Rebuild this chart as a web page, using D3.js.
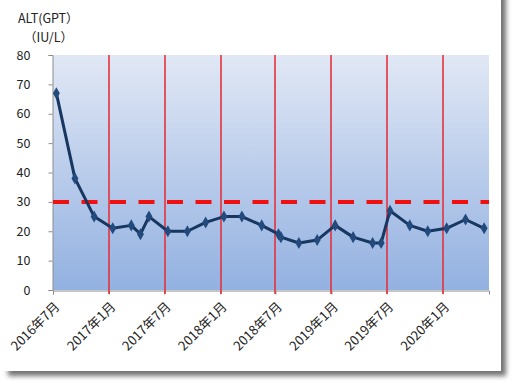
<!DOCTYPE html>
<html>
<head>
<meta charset="utf-8">
<script src="https://cdn.jsdelivr.net/npm/d3@7"></script>
<style>
  body { margin: 0; background: #fff; }
  svg text { font-family: "Noto Sans CJK JP", "Noto Sans", sans-serif; fill: #222; }
</style>
</head>
<body>
<script>
// measurement dates and ALT values
var dates = ["2016-07-12", "2016-09-11", "2016-11-13", "2017-01-13", "2017-03-15", "2017-04-14",
  "2017-05-12", "2017-07-13", "2017-09-15", "2017-11-14", "2018-01-13", "2018-03-13",
  "2018-05-17", "2018-07-11", "2018-07-19", "2018-09-16", "2018-11-15", "2019-01-13",
  "2019-03-13", "2019-05-16", "2019-06-13", "2019-07-12", "2019-09-15", "2019-11-13",
  "2020-01-14", "2020-03-16", "2020-05-16"];
var values = [67, 38, 25, 21, 22, 19, 25, 20, 20, 23, 25, 25, 22, 19, 18, 16, 17, 22, 18, 16, 16, 27, 22, 20, 21, 24, 21];

var tickDates = ["2016-07-01", "2017-01-01", "2017-07-01", "2018-01-01", "2018-07-01", "2019-01-01", "2019-07-01", "2020-01-01"];
var yTicks = [0, 10, 20, 30, 40, 50, 60, 70, 80];
var limit = 30; //reference value (dashed line)

var parse = d3.timeParse("%Y-%m-%d");
var data = dates.map(function(d, i) { return { date: parse(d), value: values[i] }; });

var width = 518, height = 388;
var plotLeft = 53, plotRight = 489, plotTop = 55, plotBottom = 290;

var svg = d3.select("body").append("svg")
  .attr("width", width)
  .attr("height", height);

var defs = svg.append("defs");

var shadow = defs.append("filter").attr("id", "shadow")
  .attr("x", "-5%").attr("y", "-5%").attr("width", "115%").attr("height", "115%");
shadow.append("feDropShadow")
  .attr("dx", 5).attr("dy", 5).attr("stdDeviation", 2.5)
  .attr("flood-color", "#000").attr("flood-opacity", 0.55);

var grad = defs.append("linearGradient").attr("id", "bg")
  .attr("x1", 0).attr("y1", 0).attr("x2", 0).attr("y2", 1);
grad.append("stop").attr("offset", "0%").attr("stop-color", "#e1e8f5");
grad.append("stop").attr("offset", "100%").attr("stop-color", "#93b1e1");

// panel with shadow
svg.append("rect")
  .attr("x", 3).attr("y", -10)
  .attr("width", 498).attr("height", 381)
  .attr("fill", "#fff")
  .attr("filter", "url(#shadow)");

var x = d3.scaleTime()
  .domain([parse("2016-07-01"), parse("2020-06-01")])
  .range([plotLeft, plotRight]);

var y = d3.scaleLinear()
  .domain([0, 80])
  .range([plotBottom, plotTop]);

// plot background
svg.append("rect")
  .attr("x", plotLeft).attr("y", plotTop)
  .attr("width", plotRight - plotLeft).attr("height", plotBottom - plotTop)
  .attr("fill", "url(#bg)");

// y axis
var yAxis = d3.axisLeft(y)
  .tickValues(yTicks)
  .tickSize(4)
  .tickPadding(18);

var gy = svg.append("g")
  .attr("transform", "translate(" + (plotLeft - 0.5) + ",0)")
  .call(yAxis);
gy.selectAll("path, line").attr("stroke", "#8c8c8c");
gy.selectAll("text").style("font-size", "12.5px").attr("fill", "#222");

// x axis
var xAxis = d3.axisBottom(x)
  .tickValues(tickDates.map(parse))
  .tickSize(4)
  .tickFormat(function(d) { return d.getFullYear() + "年" + (d.getMonth() + 1) + "月"; });

var gx = svg.append("g")
  .attr("transform", "translate(0," + (plotBottom + 0.5) + ")")
  .call(xAxis);
gx.select("path").attr("stroke", "#8c8c8c");
gx.selectAll("line").attr("stroke", "#8c8c8c");
gx.selectAll("text")
  .style("font-size", "13px")
  .attr("fill", "#222")
  .style("text-anchor", "end")
  .attr("dx", 0).attr("dy", 0)
  .attr("y", 0)
  .attr("transform", "translate(7,17) rotate(-45)");

// red vertical grid lines (on top of the axis ticks)
// snapped to even pixels, 2px wide, so the red survives image compression
function gridX(d) { return 2 * Math.floor(x(parse(d)) / 2) + 1; }

svg.selectAll(".grid")
  .data(tickDates.slice(1))
  .enter()
    .append("line")
    .attr("class", "grid")
    .attr("x1", gridX)
    .attr("x2", gridX)
    .attr("y1", plotTop)
    .attr("y2", plotBottom + 4)
    .attr("stroke", "#e4323e")
    .attr("stroke-width", 1.6);

// dashed reference line
svg.append("line")
  .attr("x1", plotLeft).attr("x2", plotRight)
  .attr("y1", y(limit)).attr("y2", y(limit))
  .attr("stroke", "#f01010")
  .attr("stroke-width", 4)
  .attr("stroke-dasharray", "16,12.5");

// data line
var line = d3.line()
  .x(function(d) { return x(d.date); })
  .y(function(d) { return y(d.value); });

svg.append("path")
  .datum(data)
  .attr("d", line)
  .attr("fill", "none")
  .attr("stroke", "#173660")
  .attr("stroke-width", 3)
  .attr("stroke-linejoin", "round");

svg.selectAll(".pt")
  .data(data)
  .enter()
    .append("path")
    .attr("class", "pt")
    .attr("d", d3.symbol().type(d3.symbolDiamond).size(42))
    .attr("transform", function(d) { return "translate(" + x(d.date) + "," + y(d.value) + ")"; })
    .attr("fill", "#234a7c");

// y axis title
svg.append("text")
  .attr("x", 18).attr("y", 23)
  .style("font-size", "12.5px")
  .text("ALT(GPT）");
svg.append("text")
  .attr("x", 24).attr("y", 42)
  .style("font-size", "12.5px")
  .text("（IU/L）");
</script>
</body>
</html>
